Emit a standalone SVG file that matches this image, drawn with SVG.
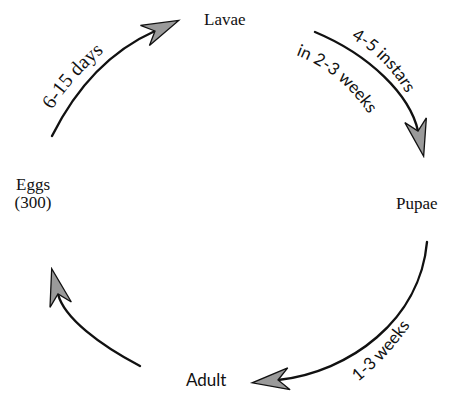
<svg xmlns="http://www.w3.org/2000/svg" width="451" height="396" viewBox="0 0 451 396">
<style>
.node{font-family:"Liberation Serif",serif;font-size:17px;fill:#111}
.sans{font-family:Lato,"Liberation Sans",sans-serif;font-size:17px;fill:#111}
.lbl{font-family:"Liberation Serif",serif;font-size:20px;fill:#111}
.lbls{font-family:Lato,"Liberation Sans",sans-serif;font-size:17px;fill:#111}
.arc{fill:none;stroke:#111;stroke-width:2.4;stroke-linecap:round}
</style>
<defs>
<marker id="ah" markerUnits="userSpaceOnUse" viewBox="-1 -1 40 24" markerWidth="40" markerHeight="24" refX="11" refY="11" orient="auto">
<path d="M0,0 L37,11 L0,22 L11,11 Z" fill="#9a9a9a" stroke="#111" stroke-width="1.3" stroke-linejoin="miter"/>
</marker>
<path id="p1" d="M52,110 Q80,66 126,36"/>
<path id="p2" d="M351,38 Q390,60 412,104"/>
<path id="p3" d="M296,55 Q349,75 380,133"/>
<path id="p4" d="M358,382 Q392,354 418,314"/>
</defs>
<rect width="451" height="396" fill="#fff"/>
<g id="connectors">
<path class="arc" d="M52,136 Q90,60 155,31" marker-end="url(#ah)"/>
<path class="arc" d="M315,32 C370,55 410,95 418,131" marker-end="url(#ah)"/>
<path class="arc" d="M427,242 C420,320 350,372 278,380" marker-end="url(#ah)"/>
<path class="arc" d="M140,366 C100,345 64,318 58,294" marker-end="url(#ah)"/>
<text class="lbl"><textPath href="#p1">6-15 days</textPath></text>
<text class="lbls"><textPath href="#p2">4-5 instars</textPath></text>
<text class="lbls"><textPath href="#p3">in 2-3 weeks</textPath></text>
<text class="lbls"><textPath href="#p4">1-3 weeks</textPath></text>
</g>
<g id="lavae"><text class="node" x="204" y="25">Lavae</text></g>
<g id="pupae"><text class="node" x="396" y="209">Pupae</text></g>
<g id="eggs"><text class="node" x="33" y="190" text-anchor="middle">Eggs</text><text class="node" x="33" y="208" text-anchor="middle">(300)</text></g>
<g id="adult"><text class="sans" x="186" y="386">Adult</text></g>
</svg>
